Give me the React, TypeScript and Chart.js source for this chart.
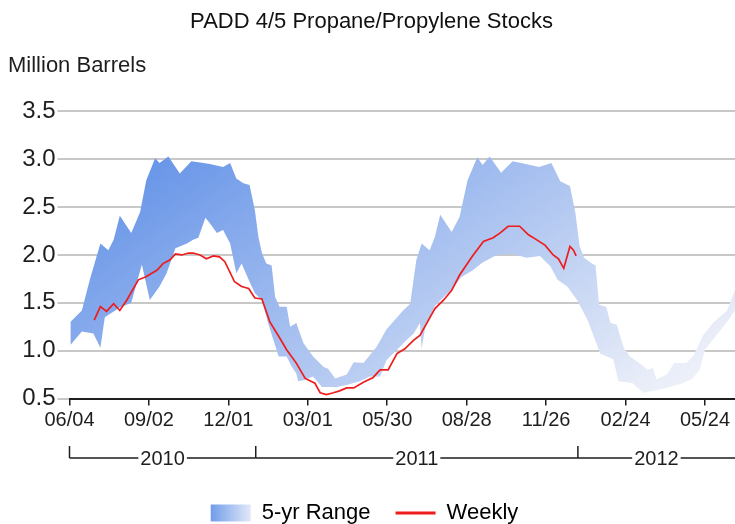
import React, { useEffect, useRef } from 'react';
import { Chart, registerables } from 'chart.js';

Chart.register(...registerables);

// ---------- text ----------
const TITLE = 'PADD 4/5 Propane/Propylene Stocks';
const UNIT_LABEL = 'Million Barrels';
const RANGE_LABEL = '5-yr Range';
const WEEKLY_LABEL = 'Weekly';

// ---------- x axis: days since 06/04/2010 ----------
const tickDays = [0, 90, 180, 270, 360, 450, 540, 630, 720];
const tickLabels = ['06/04', '09/02', '12/01', '03/01', '05/30', '08/28', '11/26', '02/24', '05/24'];
const yearStartDays = [0, 211, 576];
const yearLabels = ['2010', '2011', '2012'];
const X_MAX_DAY = 754;

// ---------- y axis ----------
const yTicks = [0.5, 1.0, 1.5, 2.0, 2.5, 3.0, 3.5];

// ---------- 5-yr range: upper edge ----------
const highDays = [1, 14, 23, 35, 44, 50, 57, 70, 80, 87, 97, 102, 112, 125, 138, 152, 159, 174, 182, 189, 197, 204, 210, 214, 218, 223, 229, 233, 238, 246, 250, 257, 265, 276, 288, 293, 301, 314, 322, 333, 348, 359, 378, 386, 393, 399, 408, 414, 420, 433, 442, 451, 462, 468, 476, 489, 502, 517, 532, 546, 556, 567, 573, 578, 583, 592, 596, 600, 608, 613, 620, 628, 635, 647, 655, 661, 665, 677, 685, 699, 707, 718, 729, 745, 754, 762];
const highValues = [1.30, 1.42, 1.74, 2.12, 2.05, 2.16, 2.41, 2.23, 2.45, 2.78, 3.01, 2.96, 3.03, 2.85, 2.98, 2.96, 2.95, 2.92, 2.96, 2.80, 2.75, 2.73, 2.47, 2.19, 2.02, 1.91, 1.89, 1.56, 1.46, 1.46, 1.25, 1.29, 1.08, 0.94, 0.83, 0.81, 0.71, 0.75, 0.88, 0.87, 1.04, 1.22, 1.42, 1.49, 1.95, 2.12, 2.05, 2.19, 2.42, 2.24, 2.40, 2.78, 3.02, 2.94, 3.03, 2.86, 2.98, 2.95, 2.92, 2.96, 2.77, 2.72, 2.45, 2.09, 1.97, 1.91, 1.89, 1.48, 1.46, 1.29, 1.27, 1.03, 0.94, 0.86, 0.80, 0.82, 0.70, 0.75, 0.87, 0.87, 0.95, 1.16, 1.29, 1.42, 1.63, 1.72];

// ---------- 5-yr range: lower edge ----------
const lowDays = [1, 14, 27, 35, 40, 57, 70, 82, 91, 102, 110, 120, 133, 140, 146, 154, 159, 167, 174, 182, 189, 195, 203, 210, 218, 225, 231, 237, 246, 252, 257, 259, 265, 276, 286, 295, 303, 314, 329, 340, 352, 359, 371, 382, 390, 397, 399, 403, 414, 424, 433, 444, 457, 468, 484, 502, 518, 533, 545, 553, 564, 575, 587, 598, 601, 616, 622, 638, 650, 662, 676, 695, 706, 714, 720, 733, 745, 754, 762];
const lowValues = [1.06, 1.20, 1.18, 1.03, 1.35, 1.45, 1.50, 1.90, 1.53, 1.67, 1.81, 2.07, 2.12, 2.16, 2.18, 2.39, 2.33, 2.23, 2.26, 2.12, 1.81, 1.91, 1.74, 1.60, 1.53, 1.29, 1.11, 0.94, 0.94, 0.83, 0.76, 0.68, 0.69, 0.73, 0.62, 0.62, 0.62, 0.64, 0.68, 0.73, 0.73, 0.90, 1.01, 1.11, 1.18, 1.29, 1.02, 1.24, 1.47, 1.56, 1.64, 1.77, 1.84, 1.92, 2.00, 2.01, 1.97, 1.99, 1.88, 1.74, 1.67, 1.53, 1.32, 1.05, 0.97, 0.91, 0.68, 0.66, 0.56, 0.58, 0.61, 0.66, 0.71, 0.80, 1.01, 1.16, 1.30, 1.42, 1.50];

// ---------- weekly stocks ----------
const weeklyDays = [28, 35, 42, 50, 57, 65, 78, 86, 99, 106, 114, 120, 127, 135, 140, 148, 155, 163, 170, 176, 187, 195, 203, 210, 218, 227, 237, 246, 257, 267, 278, 284, 291, 299, 306, 314, 322, 333, 344, 352, 361, 371, 380, 390, 397, 405, 414, 424, 433, 442, 456, 469, 480, 488, 497, 510, 520, 529, 539, 548, 554, 560, 567, 571, 574];
const weeklyValues = [1.32, 1.46, 1.41, 1.49, 1.42, 1.53, 1.74, 1.77, 1.84, 1.91, 1.95, 2.01, 2.00, 2.02, 2.02, 2.00, 1.96, 1.99, 1.98, 1.93, 1.72, 1.67, 1.65, 1.55, 1.54, 1.30, 1.15, 1.01, 0.87, 0.71, 0.66, 0.56, 0.54, 0.56, 0.58, 0.61, 0.61, 0.67, 0.72, 0.80, 0.80, 0.97, 1.02, 1.11, 1.16, 1.29, 1.44, 1.53, 1.63, 1.79, 1.98, 2.14, 2.18, 2.23, 2.30, 2.30, 2.21, 2.16, 2.10, 2.00, 1.96, 1.86, 2.09, 2.05, 1.99];

const FONT = '"Liberation Sans", Arial, Helvetica, sans-serif';
const TEXT_COLOR = '#1e1e1e';
const LEGEND_SHIFT = 7;

function bandGradient(ctx: CanvasRenderingContext2D, area: any) {
  const w = area.right - area.left;
  const h = area.bottom - area.top;
  const g = ctx.createLinearGradient(area.left, area.top, area.left + 0.55 * w, area.top + 1.87 * h);
  g.addColorStop(0, 'rgb(80,133,229)');
  g.addColorStop(0.85, 'rgb(234,238,248)');
  g.addColorStop(1, 'rgb(246,248,252)');
  return g;
}

const decorPlugin = {
  id: 'decor',
  afterUpdate(chart: any) {
    const legend = chart.legend;
    if (legend) {
      legend.left -= LEGEND_SHIFT;
      legend.right -= LEGEND_SHIFT;
      (legend.legendHitBoxes || []).forEach((h: any) => {
        h.left -= LEGEND_SHIFT;
      });
    }
  },
  beforeDraw(chart: any) {
    const legend = chart.legend;
    if (legend && legend.legendItems && legend.legendHitBoxes && legend.legendHitBoxes[0]) {
      const hb = legend.legendHitBoxes[0];
      const g = chart.ctx.createLinearGradient(hb.left, 0, hb.left + 40, 0);
      g.addColorStop(0, 'rgb(112,156,234)');
      g.addColorStop(1, 'rgb(226,233,248)');
      legend.legendItems[0].fillStyle = g;
    }
  },
  afterDraw(chart: any) {
    const { ctx, chartArea, scales } = chart;
    const xs = scales.x;
    ctx.save();
    // unit label
    ctx.font = `22px ${FONT}`;
    ctx.fillStyle = TEXT_COLOR;
    ctx.textAlign = 'left';
    ctx.textBaseline = 'middle';
    ctx.fillText(UNIT_LABEL, 0, 66);

    // year bracket
    ctx.font = `20px ${FONT}`;
    const lineY = chartArea.bottom + 59.5;
    const tickTop = chartArea.bottom + 47.5;
    ctx.strokeStyle = TEXT_COLOR;
    ctx.lineWidth = 1.5;
    const bounds = yearStartDays.map((d) => xs.getPixelForValue(d));
    bounds.push(chartArea.right);
    ctx.textAlign = 'center';
    for (let i = 0; i < yearLabels.length; i++) {
      const a = bounds[i];
      const b = bounds[i + 1];
      const mid = (a + b) / 2;
      const half = ctx.measureText(yearLabels[i]).width / 2 + 2;
      ctx.beginPath();
      ctx.moveTo(a, lineY);
      ctx.lineTo(mid - half, lineY);
      ctx.moveTo(mid + half, lineY);
      ctx.lineTo(b, lineY);
      ctx.stroke();
      ctx.fillText(yearLabels[i], mid, lineY + 1);
    }
    for (let i = 0; i < yearStartDays.length; i++) {
      ctx.beginPath();
      ctx.moveTo(bounds[i], tickTop);
      ctx.lineTo(bounds[i], lineY);
      ctx.stroke();
    }
    ctx.restore();
  },
};

export default function App() {
  const canvasRef = useRef<HTMLCanvasElement | null>(null);

  useEffect(() => {
    if (!canvasRef.current) return;
    Chart.defaults.font.family = FONT;

    const high = highDays.map((d, i) => ({ x: d, y: highValues[i] }));
    const low = lowDays.map((d, i) => ({ x: d, y: lowValues[i] }));
    const weekly = weeklyDays.map((d, i) => ({ x: d, y: weeklyValues[i] }));

    const chart = new Chart(canvasRef.current, {
      type: 'line',
      data: {
        datasets: [
          {
            label: RANGE_LABEL + ' high',
            data: high,
            borderWidth: 0,
            borderColor: 'rgba(0,0,0,0)',
            pointRadius: 0,
            fill: false,
            order: 2,
          },
          {
            label: RANGE_LABEL,
            data: low,
            borderWidth: 0,
            borderColor: 'rgba(0,0,0,0)',
            pointRadius: 0,
            fill: 0,
            order: 1,
            backgroundColor: (c: any) => {
              const area = c.chart.chartArea;
              if (!area) return 'rgb(150,180,238)';
              return bandGradient(c.chart.ctx, area);
            },
          },
          {
            label: WEEKLY_LABEL,
            data: weekly,
            borderColor: '#ee1c1c',
            borderWidth: 1.7,
            pointRadius: 0,
            fill: false,
            order: 0,
          },
        ],
      } as any,
      options: {
        animation: false,
        responsive: true,
        maintainAspectRatio: false,
        events: [],
        layout: { padding: { top: 0, left: 0, right: 0, bottom: -10 } },
        scales: {
          x: {
            type: 'linear',
            min: 0,
            max: X_MAX_DAY,
            afterBuildTicks: (s: any) => {
              s.ticks = tickDays.map((v) => ({ value: v }));
            },
            afterFit: (s: any) => {
              s.height = 78.5;
            },
            ticks: {
              autoSkip: false,
              maxRotation: 0,
              padding: 3,
              color: TEXT_COLOR,
              font: { size: 20 },
              callback: (v: any) => {
                const i = tickDays.indexOf(Number(v));
                return i >= 0 ? tickLabels[i] : '';
              },
            },
            grid: {
              drawOnChartArea: false,
              drawTicks: true,
              tickLength: 7,
              color: TEXT_COLOR,
              lineWidth: 1.5,
            },
            border: { display: true, color: TEXT_COLOR, width: 2 },
          },
          y: {
            min: 0.5,
            max: 3.5,
            afterBuildTicks: (s: any) => {
              s.ticks = yTicks.map((v) => ({ value: v }));
            },
            afterFit: (s: any) => {
              s.width = 61.5;
            },
            ticks: {
              padding: 2,
              color: TEXT_COLOR,
              font: { size: 24 },
              callback: (v: any) => Number(v).toFixed(1),
            },
            grid: { color: '#c8c8c8', lineWidth: 2, tickLength: 12, drawTicks: true },
            border: { display: false },
          },
        },
        plugins: {
          filler: { drawTime: 'beforeDatasetsDraw' },
          tooltip: { enabled: false },
          title: {
            display: true,
            text: TITLE,
            color: '#111',
            font: { size: 22, weight: 'normal' },
            padding: { top: 9, bottom: 76 },
          },
          legend: {
            display: true,
            position: 'bottom',
            labels: {
              usePointStyle: true,
              pointStyleWidth: 40,
              boxHeight: 17,
              padding: 25,
              color: TEXT_COLOR,
              font: { size: 22 },
              generateLabels: () => [
                {
                  text: RANGE_LABEL,
                  fillStyle: 'rgb(160,188,240)',
                  strokeStyle: 'rgba(0,0,0,0)',
                  lineWidth: 0,
                  pointStyle: 'rect',
                  hidden: false,
                  datasetIndex: 1,
                },
                {
                  text: WEEKLY_LABEL,
                  fillStyle: '#ee1c1c',
                  strokeStyle: '#ee1c1c',
                  lineWidth: 3,
                  pointStyle: 'line',
                  hidden: false,
                  datasetIndex: 2,
                },
              ],
            },
          },
        },
      } as any,
      plugins: [decorPlugin],
    });

    return () => chart.destroy();
  }, []);

  return (
    <div style={{ position: 'fixed', left: 8, top: 0, width: 727, height: 524 }}>
      <canvas ref={canvasRef} />
    </div>
  );
}
